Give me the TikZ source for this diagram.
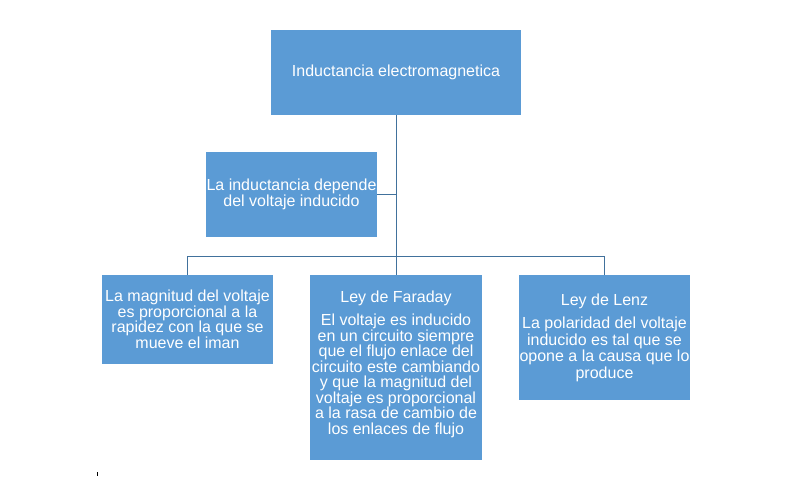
\documentclass[tikz,border=0pt]{standalone}
\usepackage{fontspec}
\setmainfont{Liberation Sans}
\definecolor{boxBlue}{RGB}{91,155,213}
\definecolor{lineBlue}{RGB}{65,113,156}
\colorlet{box-color}{boxBlue}
\colorlet{link-color}{lineBlue}
\tikzset{
  conceptbox/.style={fill=box-color, inner sep=0pt, minimum width=171pt},
  conceptText/.style={text=white, inner sep=0pt, align=center, font=\fontsize{16}{15.5}\selectfont},
  link/.style={draw=link-color, line width=1pt}
}
\newcommand{\jn}[2]{\coordinate (#1) at (#2);}

\begin{document}
\begin{tikzpicture}[x=1pt,y=-1pt]
  \useasboundingbox (0,0) rectangle (794,477);
  \node[conceptbox, minimum width=250pt, minimum height=85pt] (top) at (396,72.5) {};
  \node[conceptText] (topTxt) at (top.center) {Inductancia electromagnetica};
  \node[conceptbox, minimum height=85pt] (asst) at (291.5,194.5) {};
  \node[conceptText] (asstTxt) at (asst.center) {La inductancia depende\\del voltaje inducido};
  \node[conceptbox, minimum height=89pt] (left) at (187.5,319.5) {};
  \node[conceptText] (leftTxt) at (left.center) {La magnitud del voltaje\\es proporcional a la\\rapidez con la que se\\mueve el iman};
  \node[conceptbox, minimum width=172pt, minimum height=185pt] (mid) at (396,367.5) {};
  \node[conceptText] (midTxt) at ([yshift=3pt]mid.center) {Ley de Faraday\\[7.5pt]El voltaje es inducido\\en un circuito siempre\\que el flujo enlace del\\circuito este cambiando\\y que la magnitud del\\voltaje es proporcional\\a la rasa de cambio de\\los enlaces de flujo};
  \node[conceptbox, minimum height=125pt] (right) at (604.5,337.5) {};
  \node[conceptText, font=\fontsize{16}{16.5}\selectfont] (rightTxt) at (right.center) {Ley de Lenz\\[7pt]La polaridad del voltaje\\inducido es tal que se\\opone a la causa que lo\\produce};
  \jn{bus}{396,256};
  \draw[link] (top.south) -- (mid.north);
  \draw[link] (asst.east) -- (asst.east -| top.south);
  \draw[link] (left.north) -- (left.north |- bus) -- (right.north |- bus) -- (right.north);
  % stray mark
  \draw[line width=0.8pt] (97,472) -- (97,476);
\end{tikzpicture}
\end{document}
